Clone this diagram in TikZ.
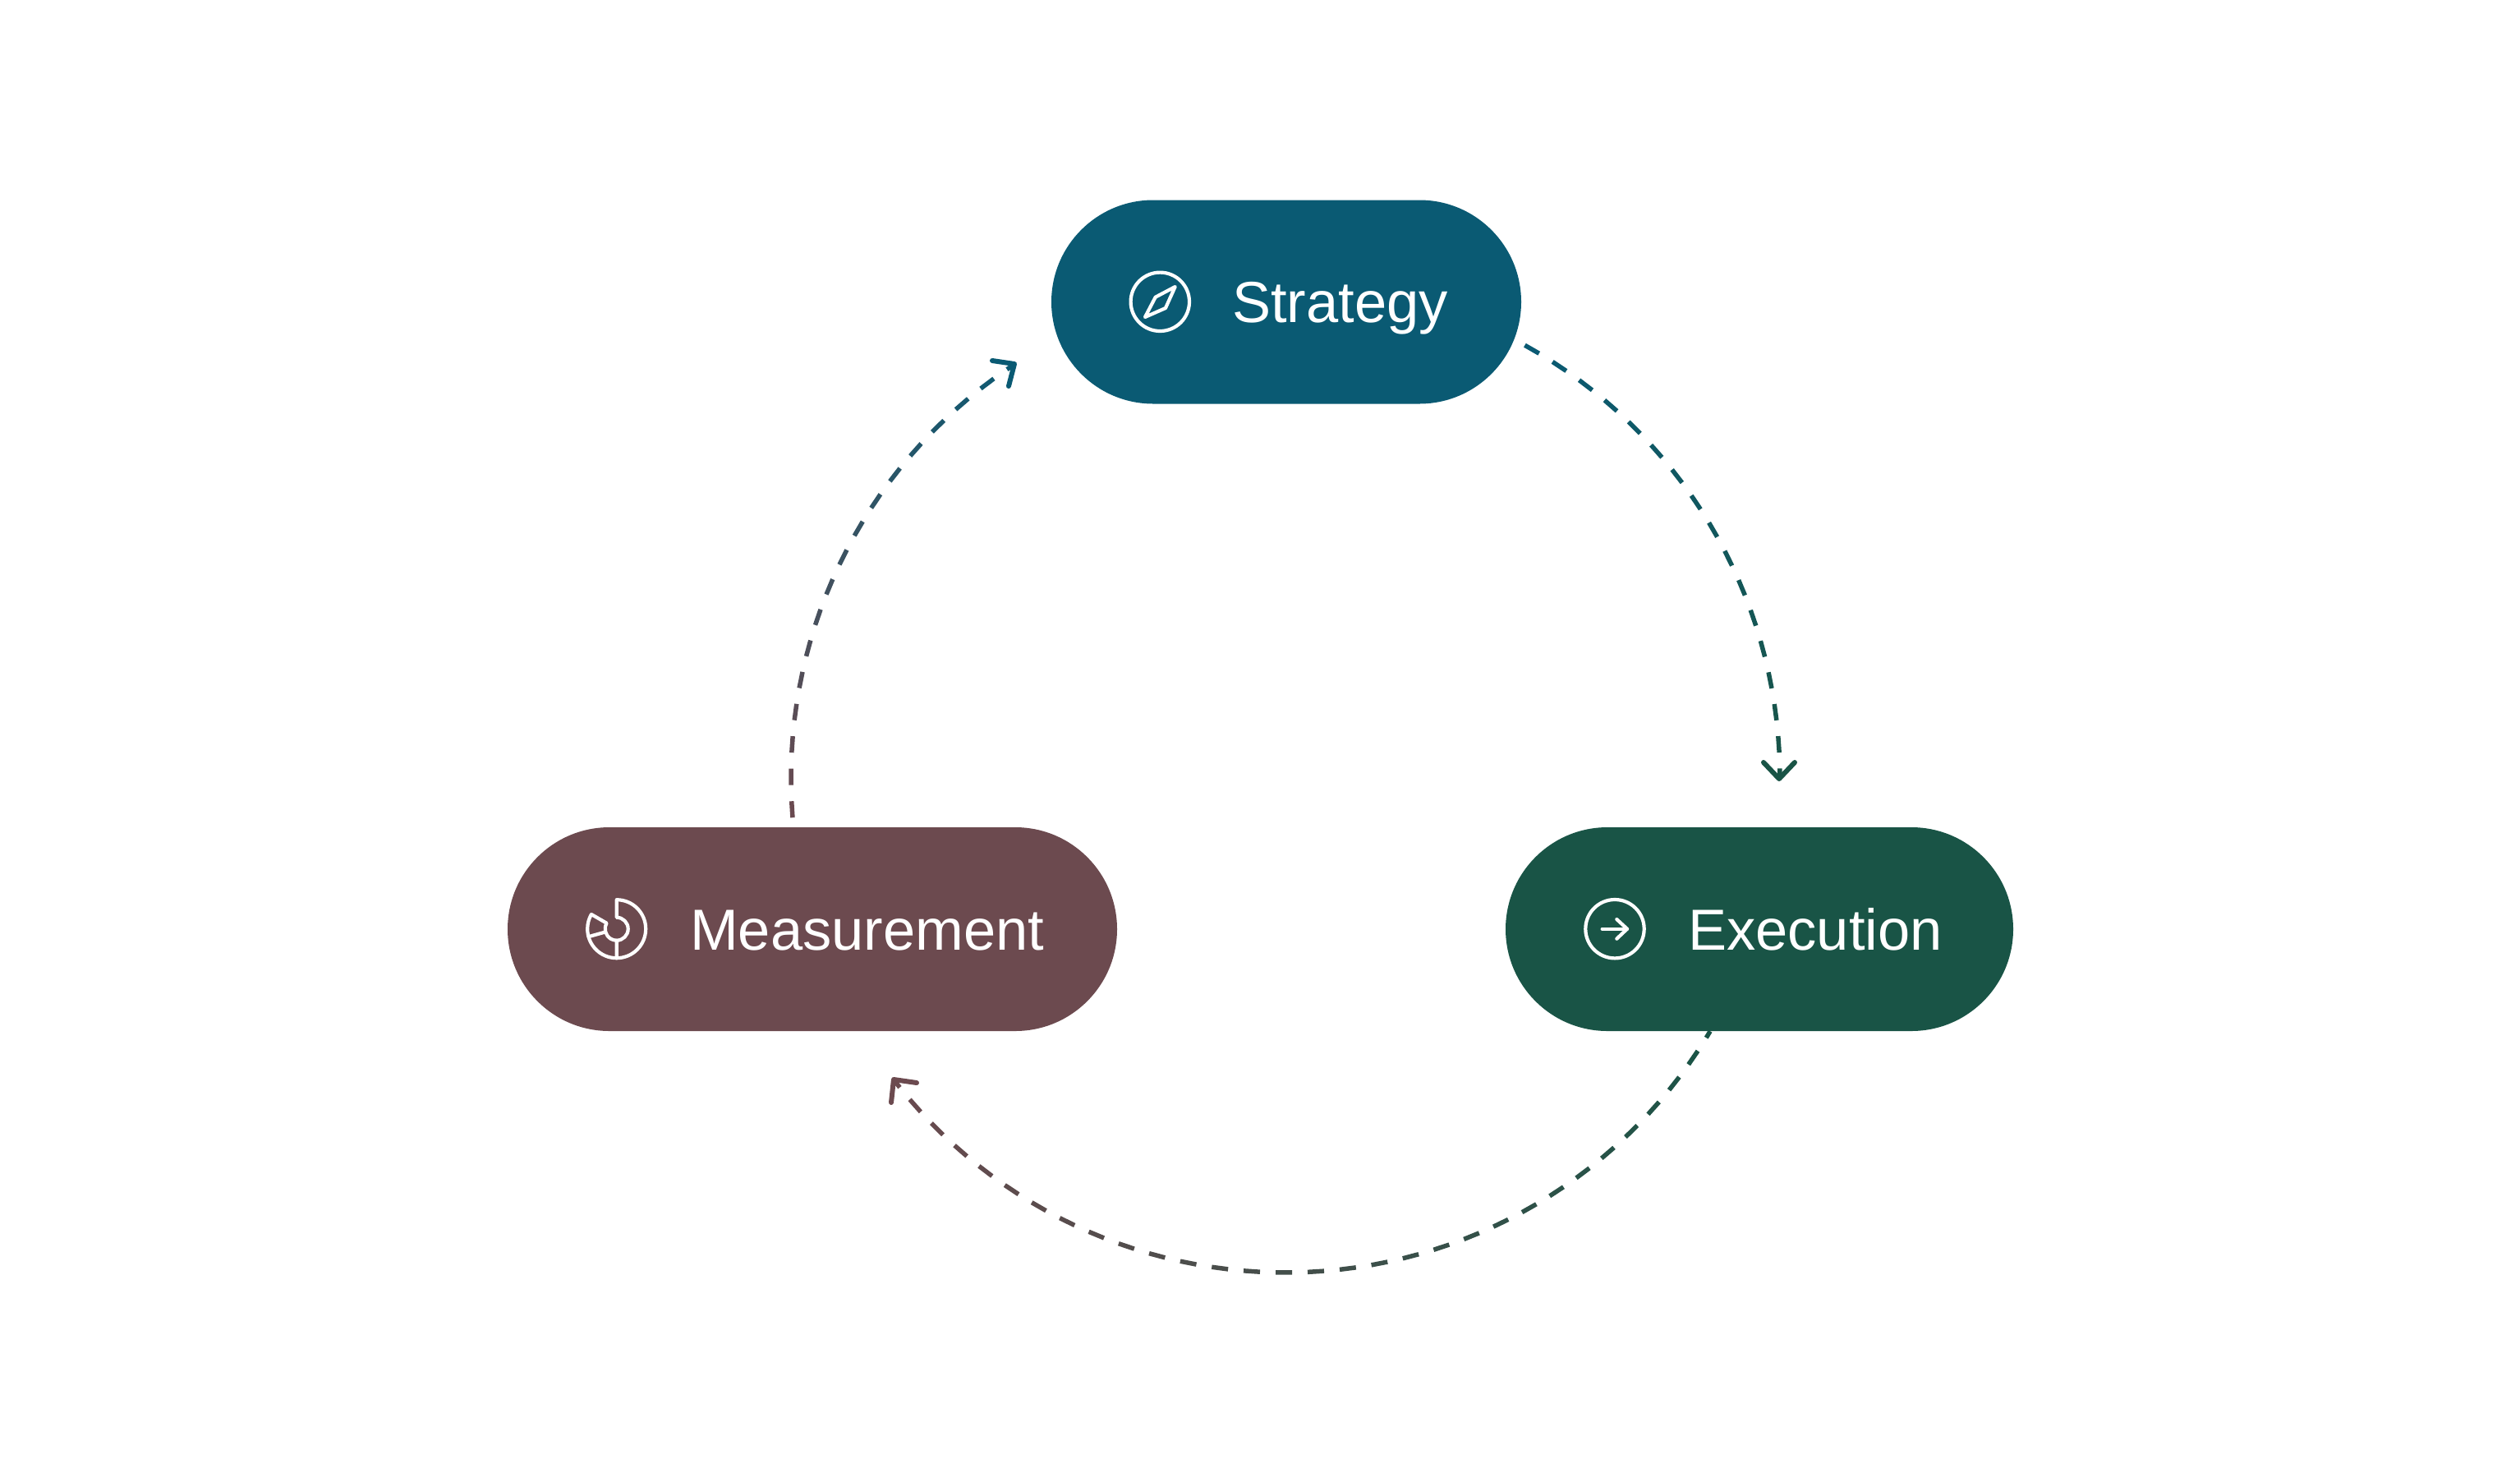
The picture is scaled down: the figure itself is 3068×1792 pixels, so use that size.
\documentclass[tikz,border=0pt]{standalone}
\usepackage{fontspec}
\setmainfont{Liberation Sans}
\usetikzlibrary{calc,shapes.misc}
\definecolor{blu}{HTML}{0A5A73}
\definecolor{grn}{HTML}{195446}
\definecolor{brn}{HTML}{6C4A4F}
\newcommand{\dashring}[5]{%
  \foreach \k in {-1,0,...,30}{%
    \pgfmathsetmacro\aa{#2-0.09518*(51+#5*\k)}%
    \pgfmathsetmacro\ab{min(#2,#2-0.09518*(31+#5*\k))}%
    \pgfmathsetmacro\ac{max(\aa,#1)}%
    \pgfmathparse{\ab>#1?1:0}%
    \ifnum\pgfmathresult=1
      \pgfmathsetmacro\pc{(\ac-#1)/(#2-#1)*100}%
      \colorlet{dashcol}{#4!\pc!#3}%
      \draw[ringdash,draw=dashcol] ([shift={(\ac:602)}]ring) -- ([shift={(\ab:602)}]ring);
    \fi
  }%
}
\begin{document}
\begin{tikzpicture}[x=1pt,y=-1pt,
 pill/.style={rounded rectangle,rounded rectangle arc length=180,inner sep=0pt,minimum height=248pt},
 lab/.style={text=white,font=\fontsize{70.5}{70.5}\selectfont,anchor=base west,inner sep=0pt},
 ic/.style={draw=white,line width=4.2pt,line join=round,line cap=round},
 ringdash/.style={line width=5.5pt},
 ahead/.style={line width=6pt,line cap=round,line join=round}]
\useasboundingbox (0,0) rectangle (3068,1792);
\coordinate (ring) at (1565,947);
\dashring{-61.1}{0}{blu}{grn}{39.36}
\dashring{30.8}{142.4}{grn}{brn}{39.04}
\dashring{174.3}{236.8}{brn}{blu}{39.6}
\node[pill,fill=blu,minimum width=572pt] (strategy) at (1566,367.5) {};
\node[pill,fill=grn,minimum width=618pt] (execution) at (2142,1131) {};
\node[pill,fill=brn,minimum width=742pt] (measurement) at (989,1131) {};
\coordinate (t1) at (2166,948);
\coordinate (t1a) at (2147,928);
\coordinate (t1b) at (2185,928);
\coordinate (t2) at (1088,1314);
\coordinate (t2a) at (1116,1318);
\coordinate (t2b) at (1085,1342);
\coordinate (t3) at (1235,443);
\coordinate (t3a) at (1208,439);
\coordinate (t3b) at (1228,470);
\draw[ahead,grn] (t1a) -- (t1) -- (t1b);
\draw[ahead,brn] (t2a) -- (t2) -- (t2b);
\draw[ahead,blu] (t3a) -- (t3) -- (t3b);
\node[lab] (s) at (1500,392.5) {Strategy};
\node[lab] (e) at (2055,1156.5) {Execution};
\node[lab] (m) at (840,1156.5) {Measurement};
% compass
\draw[ic] (1412.3,367.3) circle (35.7);
\draw[ic] (1430.7,349) -- (1419,375) -- (1394,386) -- (1406.7,361.7) -- cycle;
% arrow
\draw[ic] (1966,1130.7) circle (35.7);
\draw[ic] (1950.7,1130.7) -- (1981,1130.7);
\draw[ic] (1968.3,1119) -- (1981,1130.7) -- (1968.3,1142.7);
% donut
\begin{scope}[shift={(750.7,1130.7)}]
\draw[ic] (0,-35.5) arc[start angle=-90,end angle=90,radius=35.5] -- (0,14) arc[start angle=90,end angle=-90,radius=14] -- cycle;
\draw[ic] (0,35.5) arc[start angle=90,end angle=210,radius=35.5] -- (-12.1,-7) arc[start angle=210,end angle=90,radius=14];
\draw[ic] (-34.2,9.5) -- (-13.5,3.7);
\end{scope}
\end{tikzpicture}
\end{document}
